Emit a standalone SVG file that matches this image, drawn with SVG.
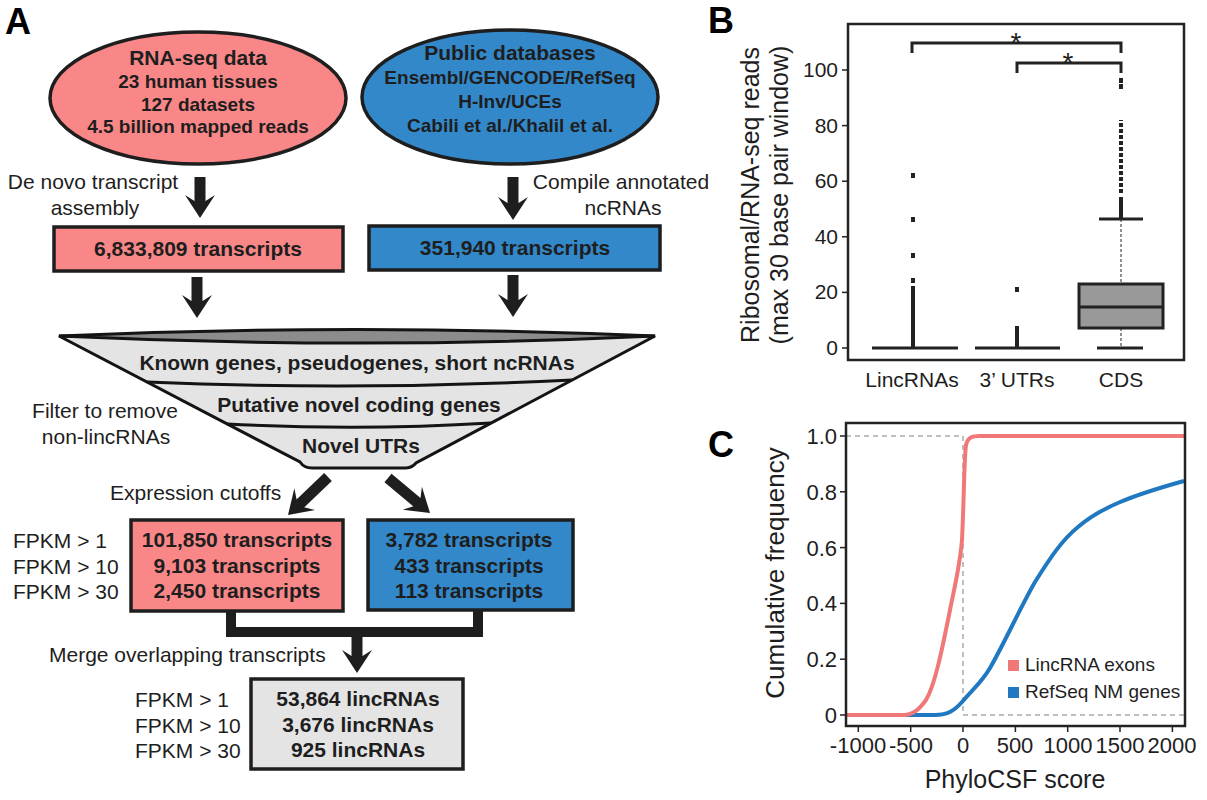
<svg xmlns="http://www.w3.org/2000/svg" width="1207" height="800" viewBox="0 0 1207 800">
<style>
text{font-family:"Liberation Sans",Arial,Helvetica,sans-serif;fill:#1e1e1e}
.lbl{font-size:36px;font-weight:bold;fill:#000}
.t21{font-size:21px}
.b21{font-size:21px;font-weight:bold}
.b19{font-size:19px;font-weight:bold}
.c{text-anchor:middle}
.r{text-anchor:end}
.node{stroke:#1e1e1e;stroke-width:3.5}
.red{fill:#F98787}
.blue{fill:#3388CA}
.gray{fill:#E4E4E4}
.shaft{stroke:#1e1e1e;stroke-width:11;fill:none}
.ax{stroke:#222;stroke-width:2.5;fill:none}
.tk{stroke:#222;stroke-width:1.5}
.bp{stroke:#222;stroke-width:3;fill:none}
.dash{stroke:#aaa;stroke-width:1.5;stroke-dasharray:5 4;fill:none}
.dot{fill:#222}
</style>
<defs>
<path id="ah" d="M0,0 L-15,-23 L-5.5,-17 L5.5,-17 L15,-23 Z" fill="#1e1e1e"/>
</defs>

<!-- Panel A -->
<text class="lbl" x="5" y="34">A</text>

<g id="rnaseq">
<ellipse class="node red" cx="198" cy="98" rx="148" ry="66"/>
<text class="c" x="198" y="65" font-size="21" font-weight="bold">RNA-seq data</text>
<text class="b19 c" x="198" y="88">23 human tissues</text>
<text class="b19 c" x="198" y="111">127 datasets</text>
<text class="b19 c" x="198" y="133">4.5 billion mapped reads</text>
</g>

<g id="publicdb">
<ellipse class="node blue" cx="510" cy="97" rx="148" ry="67"/>
<text class="c" x="510" y="60" font-size="21" font-weight="bold">Public databases</text>
<text class="b19 c" x="510" y="84">Ensembl/GENCODE/RefSeq</text>
<text class="b19 c" x="510" y="108">H-Inv/UCEs</text>
<text class="b19 c" x="510" y="132">Cabili et al./Khalil et al.</text>
</g>

<g id="labels-top">
<text class="t21 c" x="93" y="189">De novo transcript</text>
<text class="t21 c" x="95" y="215">assembly</text>
<text class="t21 c" x="621" y="189">Compile annotated</text>
<text class="t21 c" x="623" y="215">ncRNAs</text>
</g>

<g id="box-red1">
<rect class="node red" x="54" y="227" width="289" height="44"/>
<text class="b21 c" x="198" y="256">6,833,809 transcripts</text>
</g>

<g id="box-blue1">
<rect class="node blue" x="369" y="226" width="291" height="44"/>
<text class="b21 c" x="515" y="255">351,940 transcripts</text>
</g>

<g id="funnel">
<path d="M59,336 L300,462 Q304,468 312,468 L405,468 Q412,468 416,463 L655,336 Z" fill="#E4E4E4" stroke="#141414" stroke-width="3"/>
<path d="M59,336 Q357,323 655,336 Q357,350 59,336 Z" fill="#8C8C8C" stroke="#141414" stroke-width="3"/>
<path d="M147,382 Q357,391 572,380" fill="none" stroke="#141414" stroke-width="3"/>
<path d="M227,424 Q359,431 491,423" fill="none" stroke="#141414" stroke-width="3"/>
<text class="b21 c" x="357" y="370">Known genes, pseudogenes, short ncRNAs</text>
<text class="b21 c" x="359" y="412">Putative novel coding genes</text>
<text class="b21 c" x="361" y="453">Novel UTRs</text>
</g>

<g id="labels-mid">
<text class="t21 c" x="105" y="418">Filter to remove</text>
<text class="t21 c" x="106" y="444">non-lincRNAs</text>
<text class="t21" x="110" y="500">Expression cutoffs</text>
<text class="t21" x="13" y="548">FPKM &gt; 1</text>
<text class="t21" x="13" y="574">FPKM &gt; 10</text>
<text class="t21" x="13" y="599">FPKM &gt; 30</text>
<text class="t21" x="49" y="662">Merge overlapping transcripts</text>
<text class="t21" x="135" y="707">FPKM &gt; 1</text>
<text class="t21" x="135" y="733">FPKM &gt; 10</text>
<text class="t21" x="135" y="758">FPKM &gt; 30</text>
</g>

<g id="box-red2">
<rect class="node red" x="131" y="520" width="212" height="91"/>
<text class="b21 c" x="237" y="547">101,850 transcripts</text>
<text class="b21 c" x="237" y="573">9,103 transcripts</text>
<text class="b21 c" x="237" y="598">2,450 transcripts</text>
</g>

<g id="box-blue2">
<rect class="node blue" x="368" y="520" width="205" height="90"/>
<text class="b21 c" x="469" y="547">3,782 transcripts</text>
<text class="b21 c" x="469" y="573">433 transcripts</text>
<text class="b21 c" x="469" y="598">113 transcripts</text>
</g>

<g id="box-gray">
<rect class="node gray" x="251" y="679" width="212" height="90"/>
<text class="b21 c" x="358" y="706">53,864 lincRNAs</text>
<text class="b21 c" x="358" y="732">3,676 lincRNAs</text>
<text class="b21 c" x="358" y="757">925 lincRNAs</text>
</g>

<g id="connectors">
<line class="shaft" x1="200" y1="177" x2="200" y2="203"/>
<use href="#ah" transform="translate(200,218)"/>
<line class="shaft" x1="513" y1="177" x2="513" y2="205"/>
<use href="#ah" transform="translate(513,220)"/>
<line class="shaft" x1="197" y1="277" x2="197" y2="303"/>
<use href="#ah" transform="translate(197,318)"/>
<line class="shaft" x1="513" y1="275" x2="513" y2="302"/>
<use href="#ah" transform="translate(513,317)"/>
<line class="shaft" x1="328" y1="477" x2="299" y2="504.7"/>
<use href="#ah" transform="translate(288,515) rotate(46.5)"/>
<line class="shaft" x1="388" y1="478" x2="418.5" y2="503.4"/>
<use href="#ah" transform="translate(430,513) rotate(-50.2)"/>
<path d="M231,611 L231,632 L478,632 L478,610" fill="none" stroke="#1e1e1e" stroke-width="10"/>
<line class="shaft" x1="357" y1="636" x2="357" y2="658" stroke-width="10"/>
<use href="#ah" transform="translate(357,673)"/>
</g>

<!-- Panel B -->
<text class="lbl" x="708" y="33">B</text>
<g id="panelB">
<rect class="ax" x="848" y="24" width="336" height="336"/>
<g class="tk">
<line x1="842" y1="348" x2="848" y2="348"/>
<line x1="842" y1="292.4" x2="848" y2="292.4"/>
<line x1="842" y1="236.8" x2="848" y2="236.8"/>
<line x1="842" y1="181.2" x2="848" y2="181.2"/>
<line x1="842" y1="125.6" x2="848" y2="125.6"/>
<line x1="842" y1="70" x2="848" y2="70"/>
</g>
<text class="t21 r" x="838" y="355">0</text>
<text class="t21 r" x="838" y="299.4">20</text>
<text class="t21 r" x="838" y="243.8">40</text>
<text class="t21 r" x="838" y="188.2">60</text>
<text class="t21 r" x="838" y="132.6">80</text>
<text class="t21 r" x="838" y="77">100</text>
<text class="t21 c" x="912" y="387">LincRNAs</text>
<text class="t21 c" x="1017" y="387">3’ UTRs</text>
<text class="t21 c" x="1121" y="387">CDS</text>
<text class="c" font-size="25" transform="translate(759,195) rotate(-90)">Ribosomal/RNA-seq reads</text>
<text class="c" font-size="25" transform="translate(788,195) rotate(-90)">(max 30 base pair window)</text>
<!-- significance brackets -->
<path class="bp" d="M912,53 L912,43 L1121,43 L1121,53" stroke-width="2.5"/>
<path class="bp" d="M1017,73 L1017,63 L1121,63 L1121,73" stroke-width="2.5"/>
<text class="c" x="1016" y="52" font-size="28">*</text>
<text class="c" x="1068" y="72" font-size="28">*</text>
<!-- LincRNAs -->
<line class="bp" x1="872" y1="348" x2="958" y2="348"/>
<line x1="913" y1="348" x2="913" y2="286" stroke="#222" stroke-width="4"/>
<rect class="dot" x="911" y="278" width="4" height="5"/>
<rect class="dot" x="911" y="253" width="4" height="5"/>
<rect class="dot" x="911" y="217" width="4" height="5"/>
<rect class="dot" x="911" y="173" width="4" height="5"/>
<!-- 3' UTRs -->
<line class="bp" x1="975" y1="348" x2="1060" y2="348"/>
<line x1="1017" y1="348" x2="1017" y2="326" stroke="#222" stroke-width="4"/>
<rect class="dot" x="1015" y="287" width="4" height="5"/>
<!-- CDS -->
<line x1="1121" y1="328" x2="1121" y2="348" stroke="#222" stroke-width="1" stroke-dasharray="3 2"/>
<line x1="1121" y1="219" x2="1121" y2="284" stroke="#222" stroke-width="1" stroke-dasharray="3 2"/>
<rect x="1079" y="284" width="84" height="44" fill="#999" stroke="#222" stroke-width="3"/>
<line class="bp" x1="1079" y1="307" x2="1163" y2="307"/>
<line class="bp" x1="1097" y1="348" x2="1143" y2="348"/>
<line class="bp" x1="1099" y1="219" x2="1143" y2="219"/>
<line x1="1121" y1="219" x2="1121" y2="197" stroke="#222" stroke-width="4"/>
<line x1="1121" y1="193" x2="1121" y2="120" stroke="#222" stroke-width="4" stroke-dasharray="4 2"/>
<rect class="dot" x="1119" y="84" width="4" height="5"/>
<rect class="dot" x="1119" y="78" width="4" height="5"/>
</g>

<!-- Panel C -->
<text class="lbl" x="708" y="457">C</text>
<g id="panelC">
<line class="dash" x1="846" y1="436" x2="963" y2="436"/>
<line class="dash" x1="963" y1="715" x2="1185" y2="715"/>
<line class="dash" x1="963" y1="436" x2="963" y2="715"/>
<path d="M846,715 L935,715 C948,715 955,710 962,702 C972,690 982,682 990,668 C1005,642 1020,608 1035,582 C1050,558 1062,540 1078,527 C1100,508 1130,496 1184,481" fill="none" stroke="#1F78C0" stroke-width="4" stroke-linejoin="round"/>
<path d="M846,715 L905,715 C915,714 920,708 926,700 C935,685 942,650 950,610 C955,585 960,565 962,540 C964,500 964,460 966,445 C968,437 972,436 980,436 L1184,436" fill="none" stroke="#F07878" stroke-width="4" stroke-linejoin="round"/>
<rect class="ax" x="846" y="423" width="339" height="303"/>
<g class="tk">
<line x1="840" y1="715" x2="846" y2="715"/>
<line x1="840" y1="659.2" x2="846" y2="659.2"/>
<line x1="840" y1="603.4" x2="846" y2="603.4"/>
<line x1="840" y1="547.6" x2="846" y2="547.6"/>
<line x1="840" y1="491.8" x2="846" y2="491.8"/>
<line x1="840" y1="436" x2="846" y2="436"/>
<line x1="858.3" y1="726" x2="858.3" y2="732"/>
<line x1="910.7" y1="726" x2="910.7" y2="732"/>
<line x1="963" y1="726" x2="963" y2="732"/>
<line x1="1015.4" y1="726" x2="1015.4" y2="732"/>
<line x1="1067.7" y1="726" x2="1067.7" y2="732"/>
<line x1="1120" y1="726" x2="1120" y2="732"/>
<line x1="1172.4" y1="726" x2="1172.4" y2="732"/>
</g>
<g font-size="22">
<text class="r" x="837" y="723">0</text>
<text class="r" x="837" y="667">0.2</text>
<text class="r" x="837" y="611">0.4</text>
<text class="r" x="837" y="556">0.6</text>
<text class="r" x="837" y="500">0.8</text>
<text class="r" x="837" y="444">1.0</text>
<text class="c" x="858" y="753">-1000</text>
<text class="c" x="911" y="753">-500</text>
<text class="c" x="963" y="753">0</text>
<text class="c" x="1015" y="753">500</text>
<text class="c" x="1068" y="753">1000</text>
<text class="c" x="1120" y="753">1500</text>
<text class="c" x="1172" y="753">2000</text>
</g>
<text class="c" x="1015" y="788" font-size="25">PhyloCSF score</text>
<text class="c" font-size="26" transform="translate(784,573) rotate(-90)">Cumulative frequency</text>
<rect x="1008" y="660" width="11" height="11" fill="#F07878"/>
<text x="1025" y="671" font-size="19">LincRNA exons</text>
<rect x="1008" y="687" width="11" height="11" fill="#1F78C0"/>
<text x="1025" y="698" font-size="19">RefSeq NM genes</text>
</g>
</svg>
